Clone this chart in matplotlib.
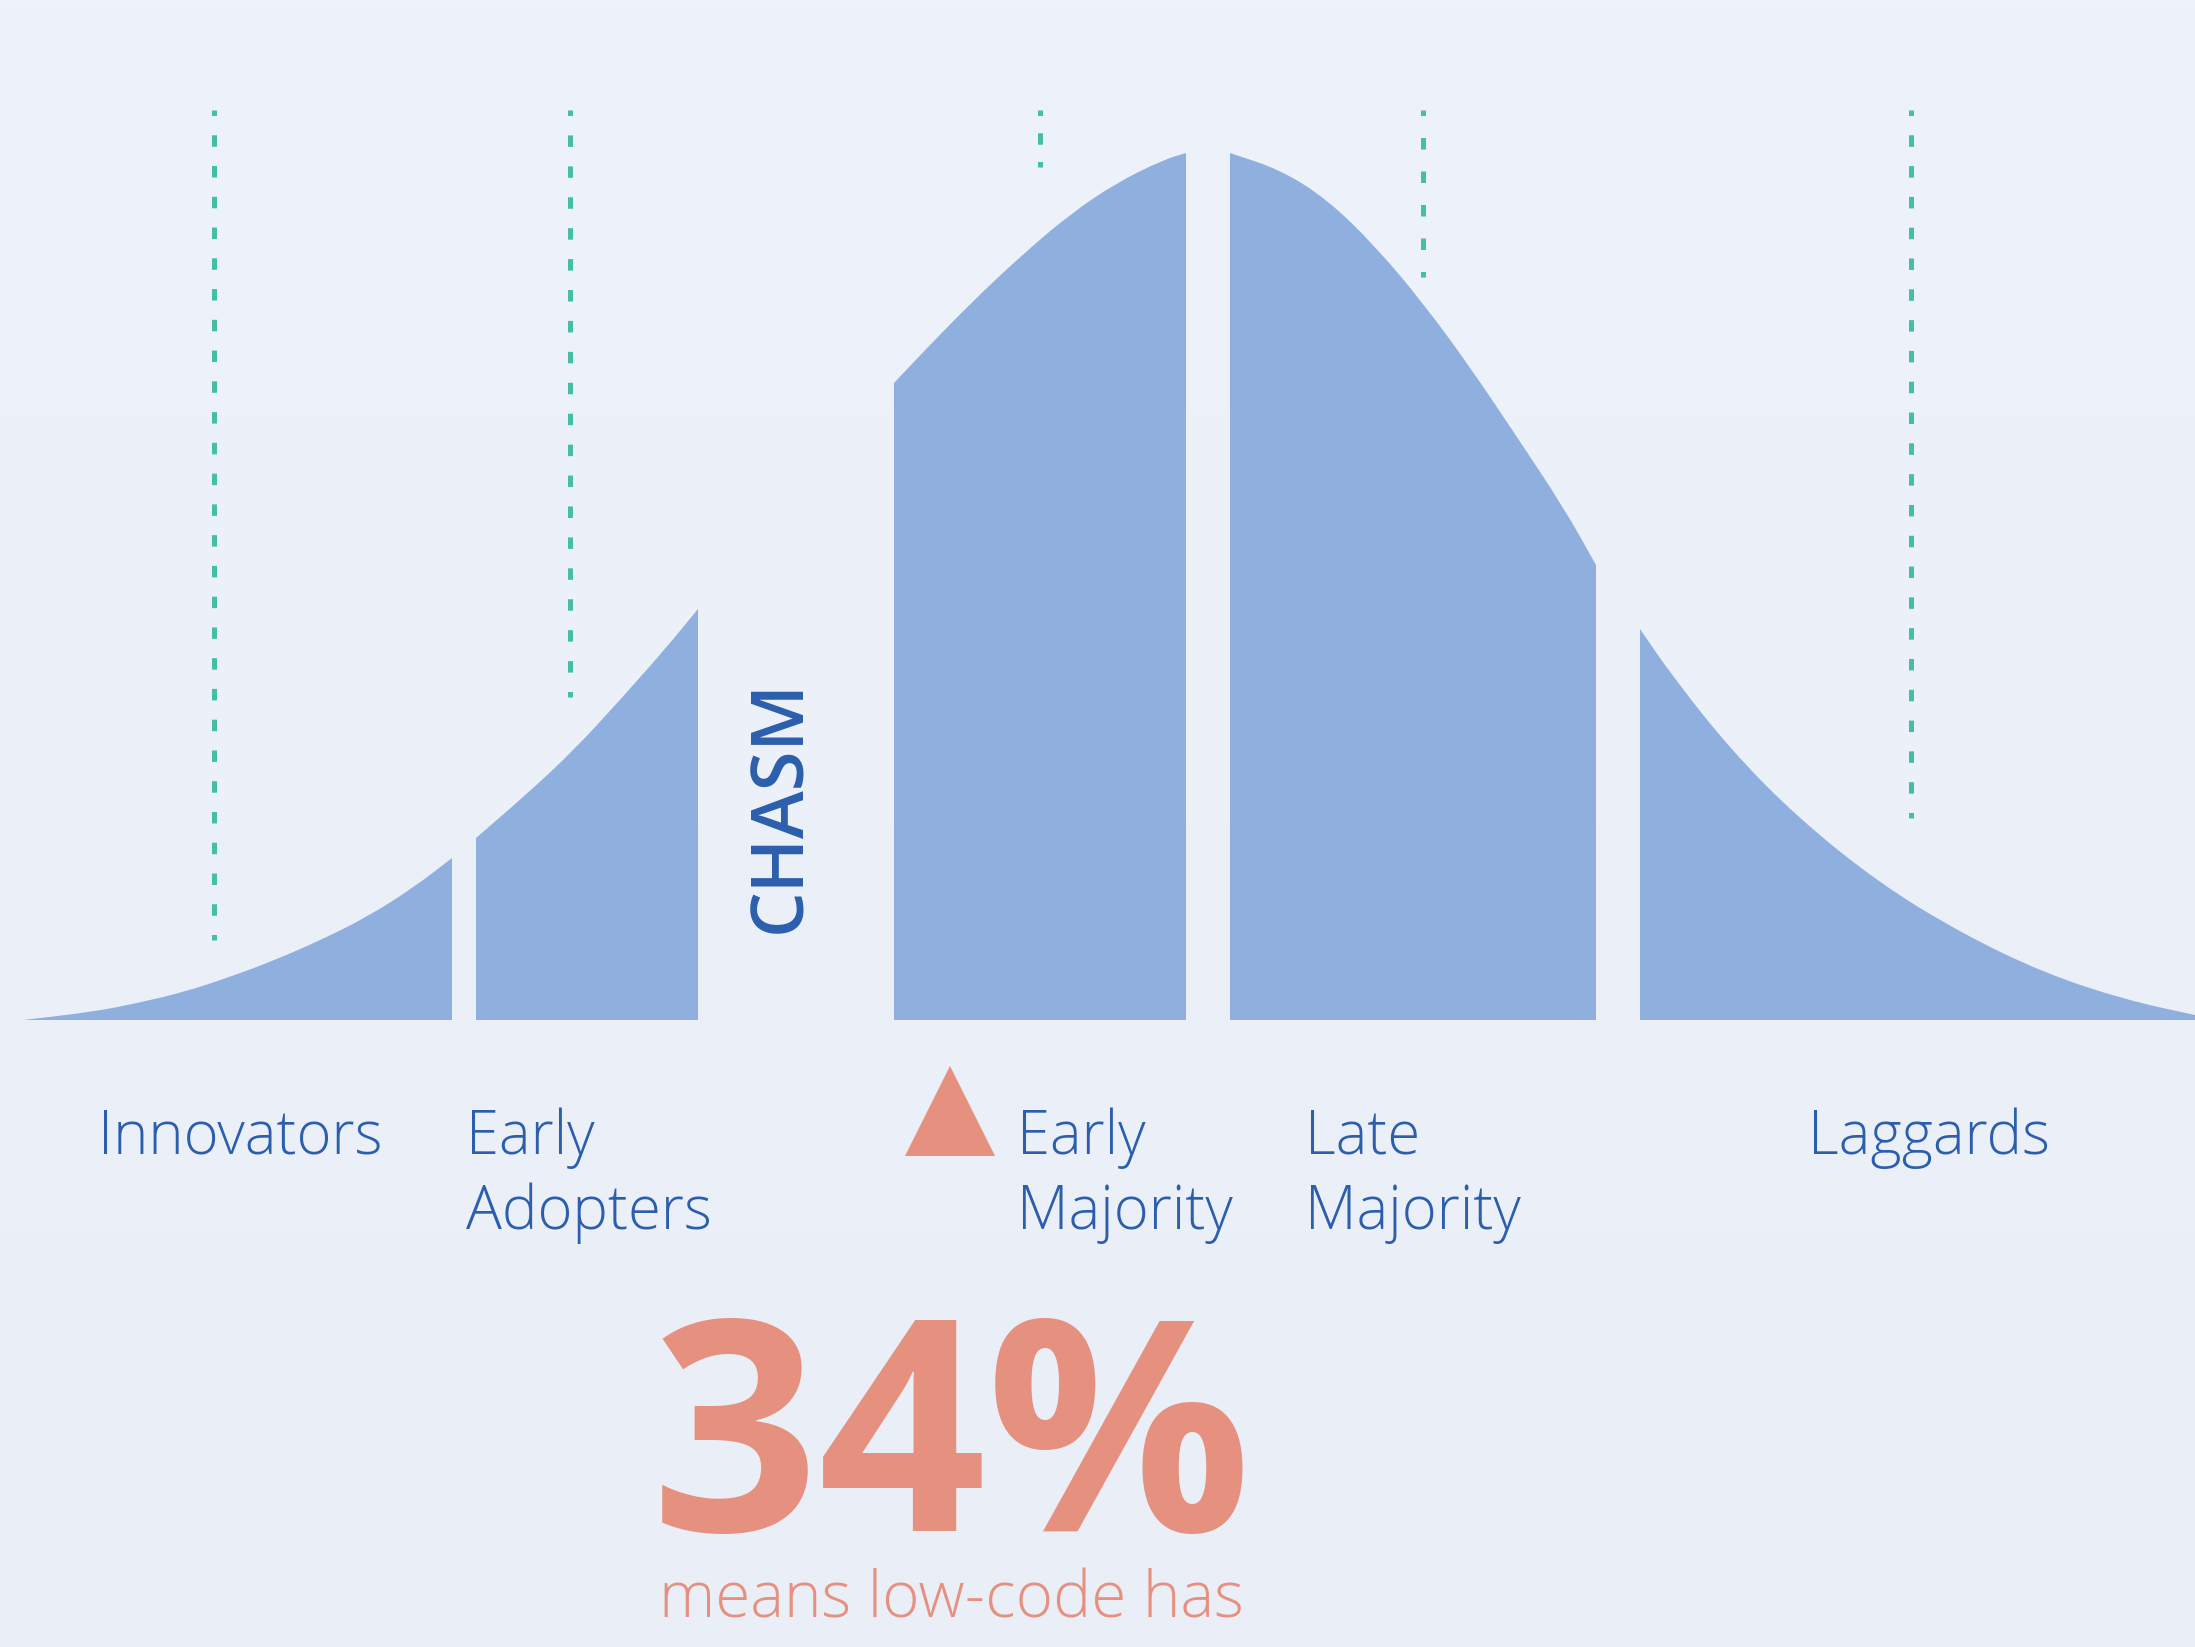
import numpy as np
import matplotlib
matplotlib.use("Agg")
import matplotlib.pyplot as plt
from matplotlib.colors import LinearSegmentedColormap
from matplotlib.path import Path
from matplotlib.patches import PathPatch

# Adoption curve segments: x position and height above the baseline
innovators_x = [23, 92, 138, 184, 230, 275, 321, 367, 413, 452]
innovators_h = [0, 8, 17, 28, 43, 60, 80, 103, 132, 162]
early_adopters_x = [476, 528, 574, 620, 666, 698]
early_adopters_h = [182, 227, 270, 320, 372, 411]
early_majority_x = [894, 927, 974, 1022, 1069, 1116, 1163, 1186]
early_majority_h = [637, 672, 720, 765, 805, 837, 860, 867]
late_majority_x = [1230, 1281, 1328, 1376, 1423, 1470, 1517, 1564, 1596]
late_majority_h = [867, 850, 820, 773, 717, 653, 583, 512, 455]
laggards_x = [1640, 1673, 1731, 1797, 1879, 1961, 2044, 2126, 2195]
laggards_h = [391, 343, 270, 203, 137, 87, 47, 20, 5]

# green dotted markers hanging from the top
marker_x = [214, 570, 1040, 1423, 1911]
marker_bottom = [80, 323, 853, 743, 202]
marker_top = 910

labels = ["Innovators", "Early\nAdopters", "Early\nMajority", "Late\nMajority", "Laggards"]
label_x = [98, 466, 1017, 1305, 1808]

big_value = "34%"
sub_text = "means low-code has"
chasm_text = "CHASM"

BLUE_FILL = "#8FB0DF"
BLUE_TEXT = "#2B5EAC"
SALMON = "#E6907F"
GREEN = "#44BFA6"

PX2PT = 0.72  # figure is drawn at 100 dpi


def segment_patch(xs, hs):
    """Filled segment whose top edge is a smooth quadratic curve through the points."""
    pts = list(zip(xs, hs))
    verts = [(xs[0], 0), pts[0]]
    codes = [Path.MOVETO, Path.LINETO]
    if len(pts) > 2:
        mid = ((pts[0][0] + pts[1][0]) / 2, (pts[0][1] + pts[1][1]) / 2)
        verts.append(mid)
        codes.append(Path.LINETO)
        for i in range(1, len(pts) - 1):
            nxt = ((pts[i][0] + pts[i + 1][0]) / 2, (pts[i][1] + pts[i + 1][1]) / 2)
            verts += [pts[i], nxt]
            codes += [Path.CURVE3, Path.CURVE3]
    verts += [pts[-1], (xs[-1], 0), (xs[0], 0)]
    codes += [Path.LINETO, Path.LINETO, Path.CLOSEPOLY]
    return PathPatch(Path(verts, codes), facecolor=BLUE_FILL, edgecolor="none", zorder=2)


plt.rcParams["lines.scale_dashes"] = False

fig = plt.figure(figsize=(21.95, 16.47), dpi=100)
ax = fig.add_axes([0, 0, 1, 1])
ax.set_xlim(0, 2195)
ax.set_ylim(-627, 1020)
ax.axis("off")

# soft vertical background gradient
bg = LinearSegmentedColormap.from_list("bg", ["#EAEFF7", "#EEF2FA"])
ax.imshow(np.linspace(0, 1, 256).reshape(-1, 1), cmap=bg, aspect="auto",
          extent=[0, 2195, -627, 1020], origin="lower", zorder=0)

segments = [
    (innovators_x, innovators_h),
    (early_adopters_x, early_adopters_h),
    (early_majority_x, early_majority_h),
    (late_majority_x, late_majority_h),
    (laggards_x, laggards_h),
]
for xs, hs in segments:
    ax.add_patch(segment_patch(xs, hs))

# dotted lines: half dash at both ends, period about 31 px
for x, b in zip(marker_x, marker_bottom):
    length = marker_top - b
    n = max(1, round(length / 31))
    period = (length + 0.5) / n
    ax.plot([x, x], [marker_top, b], color=GREEN, linewidth=5 * PX2PT,
            linestyle=(6 * PX2PT, (11.5 * PX2PT, (period - 11.5) * PX2PT)),
            dash_capstyle="butt", zorder=3)

for lab, x in zip(labels, label_x):
    for i, line in enumerate(lab.split("\n")):
        ax.text(x, -134 - 75 * i, line, color=BLUE_TEXT, fontsize=43,
                family="Open Sans", fontweight="light", ha="left",
                va="baseline", zorder=4)

ax.text(781, 214, chasm_text, color=BLUE_TEXT, fontsize=52, family="Open Sans",
        fontweight="semibold", rotation=90, ha="center", va="center", zorder=4)

# pointer under the chasm
ax.plot([950], [-91], marker="^", markersize=65, color=SALMON,
        markeredgewidth=0, zorder=4)

ax.text(951, -511, big_value, color=SALMON, fontsize=212, family="Open Sans",
        fontweight="bold", ha="center", va="baseline", zorder=4)
ax.text(951, -597, sub_text, color=SALMON, fontsize=46, family="Open Sans",
        fontweight="light", ha="center", va="baseline", zorder=4)

fig.savefig("out.png", dpi=100)
